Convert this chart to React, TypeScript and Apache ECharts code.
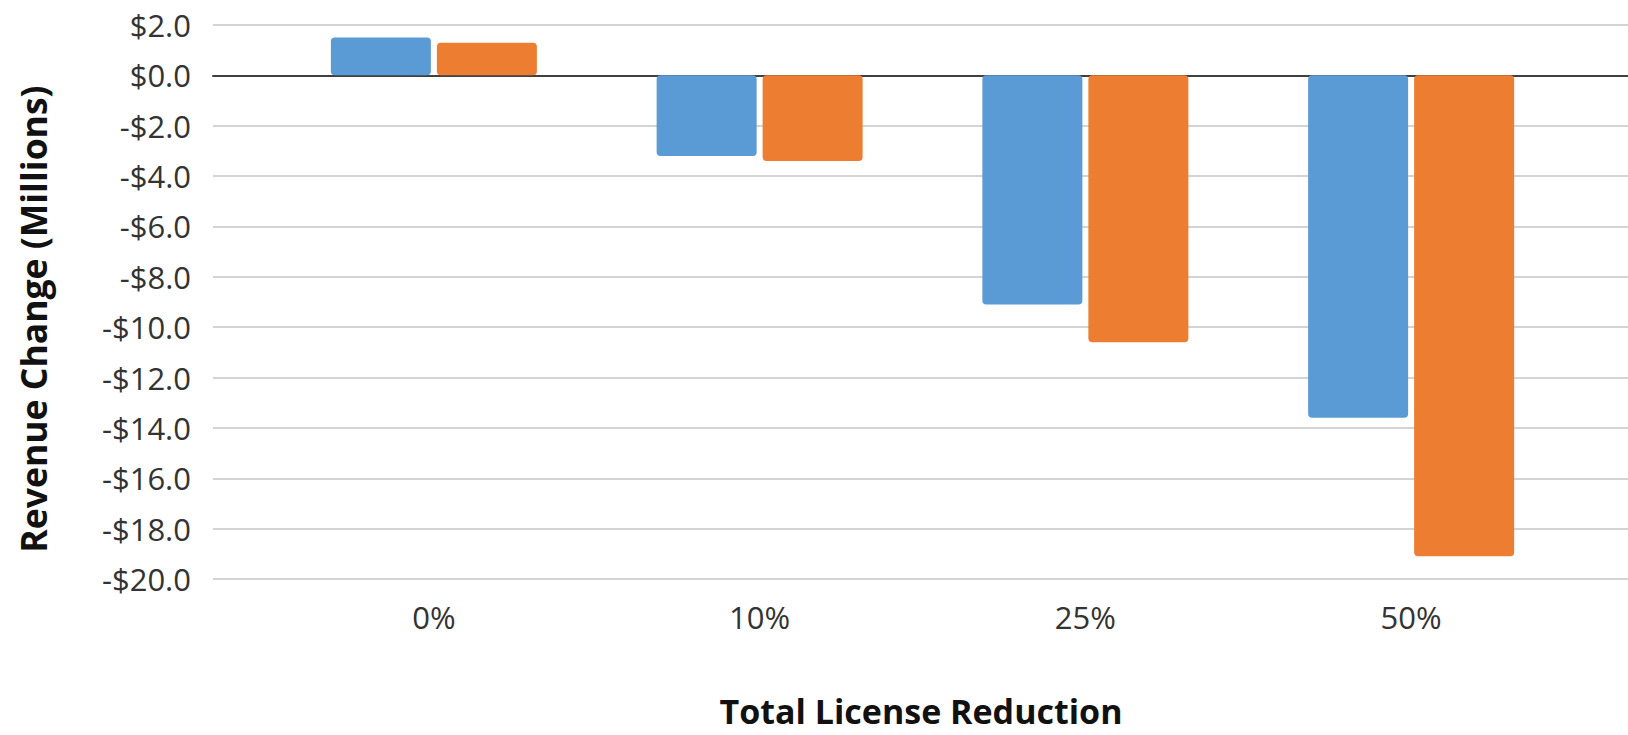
import React, { useEffect, useRef } from "react";
import * as echarts from "echarts";

const categories = ["0%", "10%", "25%", "50%"];
const seriesA = [1.5, -3.2, -9.1, -13.6];
const seriesB = [1.3, -3.4, -10.6, -19.1];
const yMin = -20;
const yMax = 2;
const yStep = 2;

const fmt = (v: number) => (v < 0 ? "-$" + Math.abs(v).toFixed(1) : "$" + v.toFixed(1));

export default function App() {
  const ref = useRef<HTMLDivElement>(null);
  useEffect(() => {
    if (!ref.current) return;
    const chart = echarts.init(ref.current, undefined, { renderer: "svg" });
    const font = "'Open Sans', 'DejaVu Sans', sans-serif";
    chart.setOption({
      animation: false,
      backgroundColor: "#ffffff",
      grid: [
        { left: 213, right: 0, top: 25, bottom: 156, containLabel: false },
        { left: 271, right: 54, top: 25, bottom: 156, containLabel: false },
      ],
      xAxis: [
        {
          gridIndex: 0,
          type: "value",
          min: 0,
          max: 1,
          axisLabel: { show: false },
          axisTick: { show: false },
          splitLine: { show: false },
          axisLine: { show: true, onZero: true, lineStyle: { color: "#404040", width: 2 } },
        },
        {
          gridIndex: 1,
          type: "category",
          data: categories,
          axisLine: { show: false },
          axisTick: { show: false },
          axisLabel: { fontSize: 31, fontFamily: font, color: "#333333", margin: 22 },
        },
      ],
      yAxis: [
        {
          gridIndex: 0,
          type: "value",
          min: yMin,
          max: yMax,
          interval: yStep,
          axisLine: { show: false },
          axisTick: { show: false },
          axisLabel: { fontSize: 31, fontFamily: font, color: "#333333", margin: 22, formatter: fmt },
          splitLine: { show: true, lineStyle: { color: "#d4d4d4", width: 2 } },
        },
        {
          gridIndex: 1,
          type: "value",
          min: yMin,
          max: yMax,
          interval: yStep,
          show: false,
          splitLine: { show: false },
        },
      ],
      series: [
        {
          name: "Series 1",
          type: "bar",
          xAxisIndex: 1,
          yAxisIndex: 1,
          data: seriesA,
          barWidth: 100,
          barGap: "6%",
          itemStyle: { color: "#5B9BD5", borderRadius: 4 },
        },
        {
          name: "Series 2",
          type: "bar",
          xAxisIndex: 1,
          yAxisIndex: 1,
          data: seriesB,
          barWidth: 100,
          barGap: "6%",
          itemStyle: { color: "#ED7D31", borderRadius: 4 },
        },
      ],
      graphic: [
        {
          type: "text",
          x: 921,
          y: 711,
          style: {
            text: "Total License Reduction",
            fontSize: 34,
            lineHeight: 34,
            fontWeight: "bold",
            fontFamily: font,
            fill: "#111111",
            align: "center",
            verticalAlign: "middle",
          },
        },
        {
          type: "text",
          x: 33,
          y: 319,
          rotation: Math.PI / 2,
          style: {
            text: "Revenue Change (Millions)",
            fontSize: 35.5,
            fontWeight: "bold",
            fontFamily: font,
            fill: "#111111",
            align: "center",
            verticalAlign: "middle",
          },
        },
      ],
    });
    return () => chart.dispose();
  }, []);
  return (
    <div
      ref={ref}
      style={{ position: "fixed", left: 0, top: 0, width: 1628, height: 735, background: "#fff" }}
    />
  );
}
